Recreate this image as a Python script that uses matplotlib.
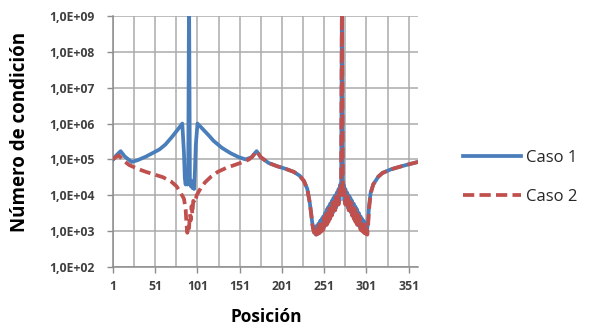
import math
import matplotlib
matplotlib.use("Agg")
import matplotlib.pyplot as plt
from matplotlib.ticker import FixedLocator, FuncFormatter, NullLocator
from matplotlib.font_manager import FontProperties

# ---- data ----
pos1 = [1, 5, 10, 15, 23, 30, 40, 50, 56, 63, 71, 77, 83, 85, 86, 87, 88, 89, 90, 91, 92,
        93, 94, 95, 96, 97, 98, 99, 101, 105, 110, 115, 120, 130, 140, 150, 158, 165, 171,
        176, 185, 195, 205, 215, 222, 227, 231, 234,
        236, 237, 238, 239, 240, 241, 242, 243, 244, 245, 246, 247, 248, 249, 250, 251, 252,
        253, 254, 255, 256, 257, 258, 259, 260, 261, 262, 263, 264, 265, 266, 267, 268, 269,
        270, 271, 272, 273, 274, 275, 276, 277, 278, 279, 280, 281, 282, 283, 284, 285, 286,
        287, 288, 289, 290, 291, 292, 293, 294, 295, 296, 297, 298, 299, 300, 301, 302, 303,
        304, 306, 309, 315, 320, 330, 340, 350, 362]
caso1 = [1.0e5, 1.3e5, 1.7e5, 1.2e5, 8.5e4, 9.5e4, 1.2e5, 1.6e5, 1.9e5, 2.6e5, 4.3e5, 6.5e5,
         1.0e6, 1.5e5, 3e4, 2e4, 3.5e4, 2e4, 3e4, 5e9, 3e4,
         1.8e4, 2.5e4, 1.6e4, 2.2e4, 1.5e4, 5e4, 2.5e5, 1.0e6, 8e5, 6e5, 4.5e5, 3.3e5, 2.1e5,
         1.5e5, 1.15e5, 1.0e5, 1.15e5, 1.7e5,
         1.15e5, 8e4, 6.5e4, 5.5e4, 4.5e4, 3.5e4, 2.5e4, 1.5e4, 6e3,
         2.5e3, 1.6e3, 1.2e3, 1.0e3, 1.3e3, 8e2, 1.4e3, 8.5e2, 1.6e3, 9e2, 1.9e3, 1.0e3, 2.2e3,
         1.1e3, 2.6e3, 1.3e3, 3.2e3,
         1.5e3, 4e3, 1.8e3, 4.8e3, 2.2e3, 5.8e3, 2.7e3, 7e3, 3.2e3, 8.5e3, 3.8e3, 1.0e4, 4.5e3,
         1.2e4, 5.5e3, 1.5e4, 7e3,
         2e4, 1.2e4, 5e9, 1.3e4, 2e4, 7e3, 1.5e4, 5.5e3, 1.2e4, 4.5e3, 1.0e4, 3.8e3, 8.5e3,
         3.2e3, 7e3, 2.7e3, 5.8e3,
         2.2e3, 4.8e3, 1.8e3, 4e3, 1.5e3, 3.2e3, 1.3e3, 2.6e3, 1.1e3, 2.2e3, 1.0e3, 1.9e3, 9e2,
         1.5e3, 8.5e2, 1.2e3, 2e3,
         5e3, 1.2e4, 2e4, 3.3e4, 4.2e4, 5.3e4, 6.2e4, 7.2e4, 8.5e4]

pos2 = [1, 4, 8, 12, 20, 30, 40, 50, 60, 70, 76, 80, 85, 87, 88, 89, 90, 91, 92, 93, 94, 95,
        96, 98, 100, 105, 110, 117, 125, 135, 145, 155, 162, 166, 171,
        176, 185, 195, 205, 215, 222, 227, 231, 234,
        236, 237, 238, 239, 240, 241, 242, 243, 244, 245, 246, 247, 248, 249, 250, 251, 252,
        253, 254, 255, 256, 257, 258, 259, 260, 261, 262, 263, 264, 265, 266, 267, 268, 269,
        270, 271, 272, 273, 274, 275, 276, 277, 278, 279, 280, 281, 282, 283, 284, 285, 286,
        287, 288, 289, 290, 291, 292, 293, 294, 295, 296, 297, 298, 299, 300, 301, 302, 303,
        304, 306, 309, 315, 320, 330, 340, 350, 362]
caso2 = [1.0e5, 1.15e5, 1.3e5, 1.0e5, 7e4, 5.5e4, 4.5e4, 3.8e4, 3.2e4, 2.4e4, 1.8e4, 1.3e4,
         8e3, 4e3, 1.5e3, 9e2, 1.5e3, 1.2e3, 3e3, 2e3, 5e3, 3e3,
         7e3, 6e3, 1.0e4, 1.6e4, 2.3e4, 3.3e4, 4.5e4, 5.8e4, 7e4, 8.5e4, 1.0e5, 1.2e5, 1.7e5,
         1.15e5, 8e4, 6.5e4, 5.5e4, 4.5e4, 3.5e4, 2.5e4, 1.5e4, 6e3,
         2.5e3, 1.5e3, 1.1e3, 9e2, 1.0e3, 1.2e3, 8e2, 1.3e3, 8.5e2, 1.5e3, 9e2, 1.7e3, 1.0e3,
         2e3, 1.1e3, 2.4e3, 1.3e3,
         2.9e3, 1.5e3, 3.5e3, 1.8e3, 4.3e3, 2.2e3, 5.2e3, 2.7e3, 6.3e3, 3.2e3, 7.6e3, 3.8e3,
         9e3, 4.5e3, 1.1e4, 5.5e3, 1.4e4,
         8e3, 2.2e4, 5e9, 2.2e4, 9e3, 1.4e4, 5.5e3, 1.1e4, 4.5e3, 9e3, 3.8e3, 7.6e3, 3.2e3,
         6.3e3, 2.7e3, 5.2e3, 2.2e3,
         4.3e3, 1.8e3, 3.5e3, 1.5e3, 2.9e3, 1.3e3, 2.4e3, 1.1e3, 2e3, 1.0e3, 1.7e3, 9e2, 1.5e3,
         8.5e2, 1.3e3, 8e2, 1.5e3,
         4e3, 1.1e4, 2e4, 3.3e4, 4.2e4, 5.3e4, 6.2e4, 7.2e4, 8.5e4]

series_names = ["Caso 1", "Caso 2"]
x_tick_labels = [1, 51, 101, 151, 201, 251, 301, 351]
y_ticks = [1e2, 1e3, 1e4, 1e5, 1e6, 1e7, 1e8, 1e9]

# ---- figure ----
W, H = 594, 332
fig = plt.figure(figsize=(W / 100, H / 100), dpi=100)
ax = fig.add_axes([113 / W, 1 - 267 / H, (418 - 113) / W, (267 - 16) / H])

blue = "#4A7EBB"
red = "#C0504D"
ax.plot(pos1, caso1, color=blue, lw=2.7, label=series_names[0], solid_joinstyle="round", zorder=3)
ax.plot(pos2, caso2, color=red, lw=2.7, ls=(0, (3.0, 1.4)), label=series_names[1], zorder=4)

ax.set_yscale("log")
ax.set_ylim(1e2, 1e9)
ax.set_xlim(1, 362)

ax.yaxis.set_major_locator(FixedLocator(y_ticks))
ax.yaxis.set_minor_locator(NullLocator())
ax.yaxis.set_major_formatter(FuncFormatter(lambda v, p: "1,0E+%02d" % round(math.log10(v))))
ax.xaxis.set_major_locator(FixedLocator(x_tick_labels))
ax.xaxis.set_minor_locator(FixedLocator([v + 25 for v in x_tick_labels]))

grid_c = "#ABABAB"
ax.grid(True, which="major", axis="both", color=grid_c, lw=1.1, zorder=0)
ax.grid(True, which="minor", axis="x", color=grid_c, lw=1.1, zorder=0)
ax.set_axisbelow(True)

for s in ["top", "right"]:
    ax.spines[s].set_visible(False)
for s in ["left", "bottom"]:
    ax.spines[s].set_color("#8C8C8C")
    ax.spines[s].set_linewidth(1.1)

tick_fp = FontProperties(family="Open Sans", size=8.8, weight="bold")
ax.tick_params(axis="both", which="major", length=4, width=1, color="#8C8C8C",
               labelcolor="#404040")
ax.tick_params(axis="y", pad=9)
ax.tick_params(axis="x", pad=5)
ax.tick_params(axis="x", which="minor", length=0)
for lbl in ax.get_xticklabels() + ax.get_yticklabels():
    lbl.set_fontproperties(tick_fp)

ax.set_xlabel("Posición", fontsize=12.5, fontweight="bold", family="Open Sans")
ax.xaxis.set_label_coords(0.502, -0.165)
ax.set_ylabel("Número de condición", fontsize=13.5, fontweight="bold", family="Open Sans")
ax.yaxis.set_label_coords(-0.272, 0.538)

leg = ax.legend(loc="upper left", bbox_to_anchor=(463 / W, 1 - 150 / H),
                bbox_transform=fig.transFigure, frameon=False, borderpad=0, borderaxespad=0,
                handlelength=3.5, handletextpad=0.3, labelspacing=1.35,
                prop={"family": "Open Sans", "size": 12})
for t in leg.get_texts():
    t.set_color("#262626")

fig.savefig("out.png", dpi=100)
